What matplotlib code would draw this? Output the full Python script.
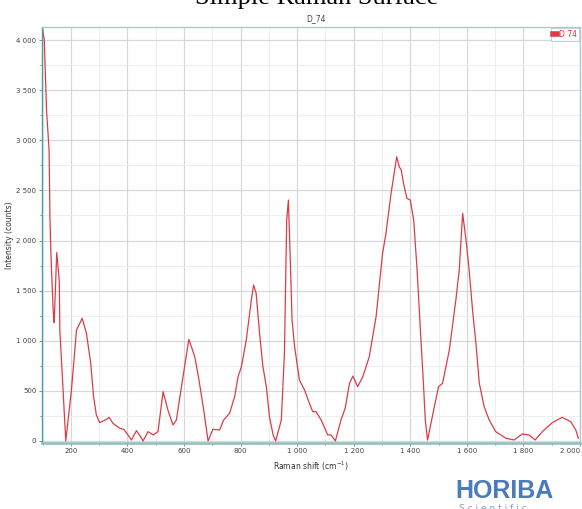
import numpy as np
import matplotlib.pyplot as plt
from matplotlib.ticker import MultipleLocator, FuncFormatter
from matplotlib.transforms import blended_transform_factory

# Raman spectrum D_74
shift = [99, 106, 114, 123, 126, 128, 132, 138, 141, 150, 159, 161, 173, 182,
         202, 220, 240, 255, 270, 280, 290, 302, 326, 335, 349, 373, 387, 402,
         414, 432, 450, 455, 473, 491, 508, 526, 543, 561, 573, 591, 617, 638,
         653, 670, 685, 702, 726, 740, 761, 779, 791, 803, 820, 838, 846, 855,
         867, 879, 891, 902, 915, 924, 944, 955, 963, 969, 975, 982, 991, 1008,
         1026, 1040, 1055, 1067, 1085, 1108, 1120, 1135, 1155, 1170, 1185, 1197,
         1214, 1232, 1255, 1279, 1302, 1314, 1332, 1352, 1361, 1368, 1376, 1388,
         1400, 1412, 1424, 1435, 1447, 1453, 1461, 1485, 1500, 1514, 1538, 1561,
         1573, 1585, 1597, 1608, 1620, 1632, 1644, 1661, 1679, 1702, 1738, 1767,
         1796, 1820, 1841, 1867, 1902, 1937, 1967, 1985, 1994]
intensity = [4130, 4000, 3300, 2900, 2240, 2005, 1670, 1275, 1180, 1880, 1600, 1107,
             476, 0, 509, 1107, 1224, 1074, 780, 450, 260, 183, 216, 236, 176,
             126, 116, 60, 10, 103, 27, 0, 93, 60, 93, 492, 309, 160, 209, 542,
             1014, 841, 608, 300, 0, 116, 110, 209, 276, 442, 641, 741, 1007,
             1406, 1556, 1473, 1074, 741, 542, 242, 60, 0, 209, 875, 2204, 2404,
             1872, 1207, 941, 608, 509, 400, 292, 292, 209, 60, 60, 0, 209, 330,
             575, 648, 542, 641, 841, 1240, 1872, 2072, 2471, 2836, 2736, 2703,
             2570, 2421, 2404, 2204, 1706, 1140, 542, 209, 10, 342, 542, 575, 908,
             1406, 1706, 2271, 2005, 1706, 1307, 975, 575, 342, 209, 93, 27, 10,
             70, 60, 10, 93, 183, 236, 193, 110, 27]

x_max = 2000

def thousands(v, pos):
    return '{:,.0f}'.format(v).replace(',', ' ')

def x_thousands(v, pos):
    # last label is drawn separately, right aligned to the axes edge
    if v >= x_max:
        return ''
    return thousands(v, pos)

fig = plt.figure(figsize=(5.82, 5.09), dpi=100)
ax = fig.add_axes([0.0722, 0.1303, 0.9244, 0.8172])

ax.plot(shift, intensity, color='#dc3c48', lw=0.9, label='D 74')

ax.set_xlim(98, x_max)
ax.set_ylim(-17, 4133)

ax.xaxis.set_major_locator(MultipleLocator(200))
ax.xaxis.set_minor_locator(MultipleLocator(100))
ax.yaxis.set_major_locator(MultipleLocator(500))
ax.yaxis.set_minor_locator(MultipleLocator(250))
ax.xaxis.set_major_formatter(FuncFormatter(x_thousands))
ax.yaxis.set_major_formatter(FuncFormatter(thousands))

ax.grid(which='major', color='#d4d8d8', lw=0.9)
ax.grid(which='minor', color='#ecefef', lw=0.8)
ax.set_axisbelow(True)

ax.tick_params(which='both', labelsize=5, labelcolor='#444444', color='#6a9a9a',
               length=2.5, width=0.7, pad=1.5)
ax.tick_params(which='minor', length=1.5)

for side in ['top', 'right']:
    ax.spines[side].set_color('#a9cccc')
    ax.spines[side].set_linewidth(1.0)
ax.spines['left'].set_color('#4f9c9c')
ax.spines['left'].set_linewidth(1.0)
ax.spines['bottom'].set_color('#8fbcbc')
ax.spines['bottom'].set_linewidth(1.8)

ax.set_xlabel('Raman shift (cm$^{-1}$)', fontsize=5.5, color='#333333', labelpad=4)
ax.set_ylabel('Intensity (counts)', fontsize=5.5, color='#333333')
ax.yaxis.set_label_coords(-0.052, 0.5)

trans = blended_transform_factory(ax.transData, ax.transAxes)
ax.text(x_max, -0.012, thousands(x_max, None), transform=trans, ha='right', va='top',
        fontsize=5, color='#444444')

leg = ax.legend(loc='upper right', fontsize=5.5, handlelength=0.5, handletextpad=0.2,
                borderpad=0.3, borderaxespad=0.15, fancybox=False, labelcolor='#dc3c48')
leg.get_frame().set_edgecolor('#a9cccc')
leg.get_frame().set_linewidth(0.7)
leg.legend_handles[0].set_linewidth(4)

fig.text(317 / 582, 1 - 4 / 509, 'Simple Raman Surface', ha='center', va='baseline',
         fontsize=19, family='Liberation Serif', color='black')
fig.text(316 / 582, 1 - 21 / 509, 'D_74', ha='center', va='baseline',
         fontsize=5.5, color='#444444')
fig.text(455 / 582, 1 - 498 / 509, 'HORIBA', ha='left', va='baseline',
         fontsize=18, family='Liberation Sans', weight='bold', color='#4a7bbf')
fig.text(459 / 582, 1 - 504 / 509, 'S c i e n t i f i c', ha='left', va='top',
         fontsize=6.5, color='#8a9bb5')

fig.savefig('out.png', dpi=100)
